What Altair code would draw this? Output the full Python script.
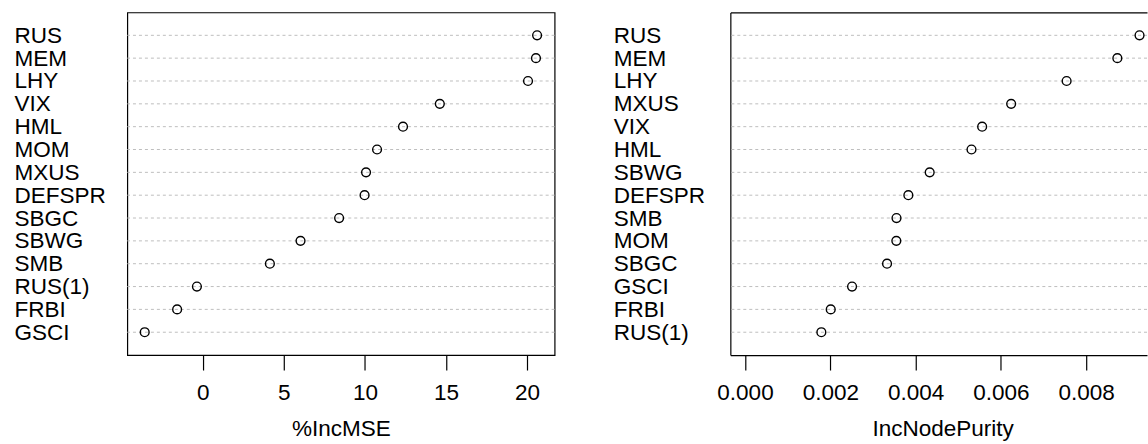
import altair as alt
import pandas as pd

variables = ["RUS", "MEM", "LHY", "VIX", "HML", "MOM", "MXUS", "DEFSPR",
             "SBGC", "SBWG", "SMB", "RUS(1)", "FRBI", "GSCI"]
inc_mse = [20.62, 20.55, 20.06, 14.62, 12.35, 10.75, 10.07, 9.98,
           8.41, 6.03, 4.14, -0.36, -1.58, -3.58]
inc_node_purity = [0.00925, 0.00873, 0.00754, 0.00556, 0.00531, 0.003548, 0.00624, 0.00383,
                   0.00333, 0.00433, 0.003552, 0.00179, 0.00201, 0.00251]

mse_ticks = [0, 5, 10, 15, 20]
purity_ticks = [0.0, 0.002, 0.004, 0.006, 0.008]

FONT = "Liberation Sans"
FS = 22.6


def panel(values, domain, ticks, fmt, title, width, label_pad, boxed, title_x=None):
    df = pd.DataFrame({"variable": variables, "value": values})
    order = [v for _, v in sorted(zip(values, variables), key=lambda t: -t[0])]
    y = alt.Y(
        "variable:N", sort=order,
        scale=alt.Scale(type="point", padding=1),
        axis=alt.Axis(title=None, labelAlign="left", labelPadding=label_pad,
                      labelFontSize=FS, labelFont=FONT, labelColor="black",
                      labelBaseline="middle", ticks=False, tickSize=0,
                      domain=not boxed, domainColor="black", domainWidth=1.2,
                      grid=False, labelLimit=300),
    )
    xscale = alt.Scale(domain=domain, zero=False, nice=False)
    xaxis_kw = dict(values=ticks, format=fmt, title=title, orient="bottom",
                    domain=not boxed, domainColor="black", domainWidth=1.2,
                    ticks=True, tickSize=15, tickColor="black", tickWidth=1.2,
                    labelFontSize=FS, labelFont=FONT, labelColor="black",
                    labelPadding=30, labelBaseline="alphabetic", labelFlush=False,
                    labelOverlap=False,
                    titleFontSize=FS, titleFont=FONT, titleFontWeight="normal",
                    titleColor="black", titleBaseline="alphabetic", titleY=81,
                    grid=False)
    if title_x is not None:
        xaxis_kw["titleX"] = title_x
    rules = alt.Chart(df).mark_rule(color="#bebebe", strokeDash=[3, 3], strokeWidth=1).encode(y=y)
    pts = alt.Chart(df).mark_point(shape="circle", filled=False, color="black", size=78,
                                   strokeWidth=1.4, opacity=1).encode(
        x=alt.X("value:Q", scale=xscale, axis=alt.Axis(**xaxis_kw)),
        y=y,
    )
    if boxed:
        return alt.layer(rules, pts, view=alt.ViewBackground(stroke="black", strokeWidth=1.2)).properties(
            width=width, height=343.7)
    top = alt.Chart(df).mark_point(opacity=0).encode(
        x=alt.X("value:Q", scale=xscale,
                axis=alt.Axis(orient="top", domain=True, domainColor="black", domainWidth=1.2,
                              labels=False, ticks=False, title=None, grid=False)),
        y=y,
    )
    return alt.layer(rules, pts, top).resolve_axis(x="independent").properties(
        width=width, height=343.7)


left = panel(inc_mse, [-4.654, 21.70], mse_ticks, "d", "%IncMSE", 428.7, 113.6, True)
right = panel(inc_node_purity, [-0.0003435, 0.009425], purity_ticks, ".3f", "IncNodePurity",
              418, 117.5, False, title_x=213)

chart = alt.hconcat(left, right, spacing=57).properties(
    padding={"left": 12.7, "top": 10.8, "right": 0, "bottom": 0},
    background="white",
).configure_view(stroke=None)

chart.save("out.html", embed_options={"renderer": "svg", "actions": False})
